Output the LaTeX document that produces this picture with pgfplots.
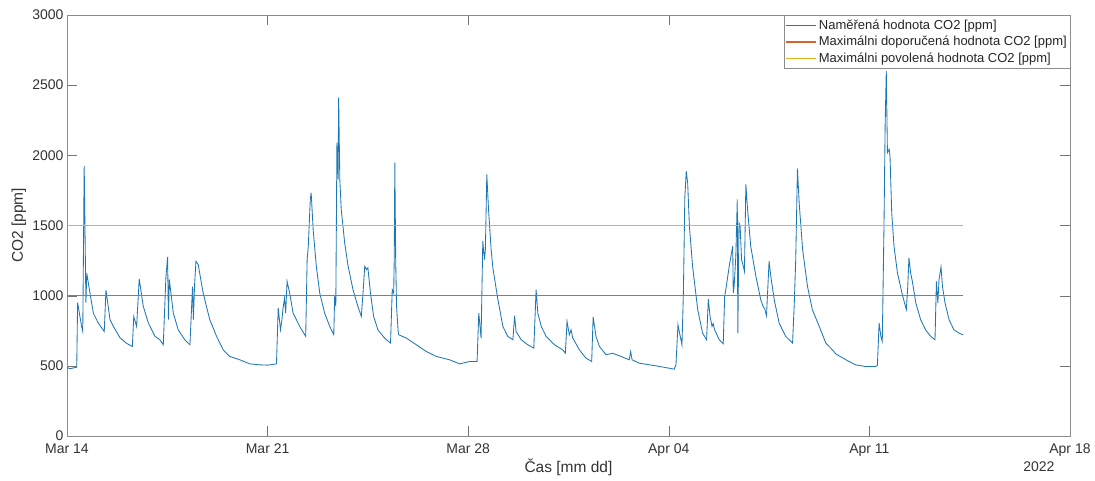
\documentclass[border=0pt]{standalone}
\usepackage{pgfplots}
\pgfplotsset{compat=1.18}
\usepackage{fontspec}
\setmainfont{Liberation Sans}
\definecolor{mblue}{RGB}{30,120,180}
\definecolor{refor}{RGB}{215,100,45}
\definecolor{refyel}{RGB}{237,177,32}
\pgfplotstableread{
d v
0 488
0.1 480
0.2 484
0.34 490
0.37 950
0.51 780
0.55 745
0.60 1925
0.66 950
0.69 1160
0.80 1020
0.92 875
1.09 805
1.30 745
1.36 1040
1.50 830
1.62 780
1.85 700
2.08 660
2.28 638
2.33 850
2.43 780
2.52 1120
2.66 925
2.84 805
3.07 710
3.24 686
3.36 650
3.45 1126
3.51 1276
3.54 830
3.57 1115
3.71 876
3.88 757
4.11 686
4.29 650
4.38 1065
4.41 830
4.45 1070
4.50 1245
4.58 1220
4.75 1020
4.98 830
5.22 710
5.45 614
5.68 567
6.03 543
6.38 514
6.73 507
7.00 505
7.31 514
7.37 912
7.45 757
7.50 829
7.54 912
7.59 983
7.63 876
7.68 1102
7.77 1019
7.89 876
8.12 781
8.33 710
8.38 1257
8.42 1352
8.49 1686
8.52 1733
8.54 1662
8.59 1471
8.70 1210
8.82 1019
8.99 876
9.17 781
9.31 721
9.34 995
9.38 924
9.42 2090
9.46 1829
9.48 2412
9.52 1829
9.57 1614
9.69 1376
9.81 1210
9.98 1043
10.15 924
10.27 852
10.33 1019
10.39 1210
10.45 1186
10.50 1198
10.59 1019
10.70 852
10.85 757
11.08 698
11.29 662
11.35 1043
11.40 1019
11.42 1269
11.44 1948
11.47 1257
11.50 924
11.56 733
11.58 721
11.84 698
12.19 650
12.54 602
12.89 567
13.35 543
13.70 514
14.05 531
14.31 531
14.37 876
14.45 698
14.51 1388
14.57 1257
14.60 1329
14.65 1864
14.71 1614
14.80 1330
14.86 1200
15.03 980
15.21 781
15.38 710
15.56 686
15.62 857
15.67 745
15.85 686
16.08 650
16.29 626
16.37 1043
16.43 876
16.55 781
16.72 710
17.01 650
17.30 614
17.39 590
17.45 817
17.53 721
17.59 757
17.65 698
17.88 614
18.11 555
18.31 531
18.36 848
18.46 710
18.58 638
18.81 579
19.04 590
19.33 567
19.62 543
19.67 602
19.72 543
19.97 519
20.55 500
21.02 483
21.19 476
21.25 507
21.32 793
21.40 710
21.46 650
21.51 1019
21.56 1700
21.61 1888
21.66 1800
21.72 1495
21.83 1210
22.01 900
22.18 733
22.32 686
22.38 976
22.44 852
22.51 781
22.55 800
22.60 757
22.76 686
22.90 657
22.95 995
22.99 1043
23.11 1210
23.18 1293
23.23 1352
23.25 1019
23.28 1067
23.34 1281
23.39 1686
23.41 733
23.45 1519
23.49 1495
23.54 1257
23.60 1210
23.64 1174
23.69 1793
23.75 1614
23.86 1352
24.04 1138
24.21 971
24.29 924
24.35 905
24.41 857
24.50 1245
24.56 1138
24.68 971
24.85 805
25.08 710
25.32 662
25.38 948
25.43 1257
25.49 1905
25.55 1662
25.67 1329
25.84 1067
26.01 900
26.25 781
26.48 662
26.71 614
26.83 585
27.18 543
27.52 507
27.87 495
28.22 495
28.28 505
28.34 805
28.40 710
28.45 674
28.51 1495
28.55 2210
28.59 2602
28.63 2019
28.69 2043
28.72 1995
28.78 1590
28.86 1352
28.98 1162
29.15 1007
29.29 900
29.34 1067
29.38 1269
29.44 1162
29.50 1102
29.62 948
29.79 829
29.96 757
30.14 710
30.29 686
30.34 1102
30.39 948
30.43 1114
30.50 1205
30.55 1067
30.64 948
30.78 829
30.95 757
31.13 733
31.27 721
}\co
\pgfplotstableread{
d v
0 1000
31.27 1000
}\lineA
\pgfplotstableread{
d v
0 1500
31.27 1500
}\lineB
\begin{document}
\begin{tikzpicture}
\useasboundingbox (-67pt,-44pt) rectangle (1028pt,436pt);
\begin{axis}[
  scale only axis,
  width=1003pt, height=421pt,
  xmin=0, xmax=35, ymin=0, ymax=3000,
  xtick={0,7,14,21,28,35},
  xticklabels={Mar 14,Mar 21,Mar 28,Apr 04,Apr 11,Apr 18},
  ytick={0,500,1000,1500,2000,2500,3000},
  /pgf/number format/assume math mode=true,
  /pgf/number format/1000 sep={},
  tick align=inside,
  major tick length=10pt,
  axis line style={black!45},
  tick style={black!55},
  ticklabel style={font=\fontsize{14}{16}\selectfont, text=black!80},
  xticklabel style={yshift=-4pt},
  xlabel={Čas [mm dd]},
  ylabel={CO2 [ppm]},
  label style={font=\fontsize{15.5}{18}\selectfont, text=black!80},
  xlabel style={at={(axis description cs:0.5,-0.0736)}, anchor=center},
  ylabel style={at={(axis description cs:-0.048,0.5)}, anchor=center},
  legend style={at={(1,1)}, anchor=north east, draw=black!45,
    font=\fontsize{13}{15}\selectfont, text=black!85,
    row sep=1.5pt, inner xsep=1pt, inner ysep=2.5pt},
  legend cell align=left,
  legend image code/.code={\draw[#1] (0pt,0pt) -- (30pt,0pt);},
  clip mode=individual,
]
\addplot[draw=mblue, line width=0.85pt] table[x=d,y=v] {\co};
\addlegendentry{Naměřená hodnota CO2 [ppm]}
\addplot[draw=refor, line width=1.4pt] table[x=d,y=v] {\lineA};
\addlegendentry{Maximálni doporučená hodnota CO2 [ppm]}
\addplot[draw=refyel, line width=1.6pt] table[x=d,y=v] {\lineB};
\addlegendentry{Maximálni povolená hodnota CO2 [ppm]}
\node[anchor=east, font=\fontsize{14}{16}\selectfont, text=black!80, xshift=-12pt, yshift=-31pt] at (rel axis cs:1,0) {2022};
\end{axis}
\end{tikzpicture}
\end{document}
